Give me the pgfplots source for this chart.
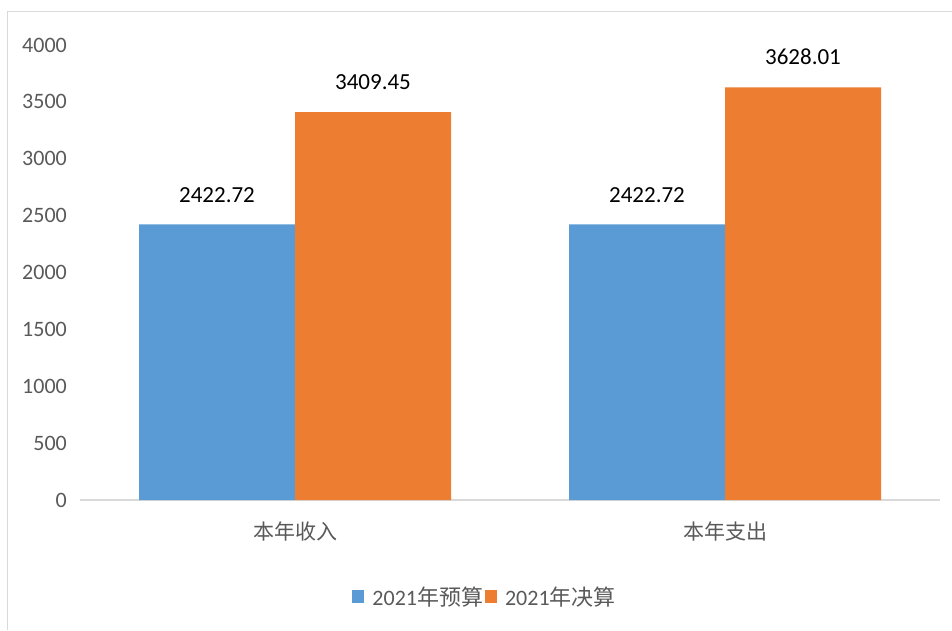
\documentclass[border=0pt]{standalone}
\usepackage{fontspec}
\setmainfont{Carlito}
\newfontfamily\cjk{Noto Sans CJK SC}
\usepackage{pgfplots}
\pgfplotsset{compat=1.18}
\definecolor{cblue}{HTML}{5B9BD5}
\definecolor{corange}{HTML}{ED7D31}
\definecolor{tgray}{HTML}{595959}
\definecolor{lgray}{HTML}{D9D9D9}
\begin{document}
\begin{tikzpicture}[x=1pt,y=1pt]
\path[use as bounding box] (0,0) rectangle (952,630);
\draw[lgray, line width=1pt] (7,0) -- (7,618) -- (952,618);
\begin{axis}[
  at={(80pt,130pt)}, anchor=south west,
  scale only axis, width=860pt, height=455pt,
  xmin=-0.5, xmax=1.5, ymin=0, ymax=4000,
  ybar=0pt, bar width=156pt,
  xtick={0,1}, xticklabels={{\cjk 本年收入},{\cjk 本年支出}},
  ytick={0,500,...,4000},
  major tick length=0pt,
  axis x line*=bottom, axis y line*=left,
  x axis line style={lgray, line width=1.2pt, -},
  y axis line style={draw=none},
  /pgf/number format/assume math mode=true,
  /pgf/number format/1000 sep={},
  yticklabel style={font=\fontsize{22}{22}\selectfont, text=tgray, inner sep=0pt, xshift=-13pt},
  xticklabel style={font=\fontsize{21}{21}\selectfont, text=tgray, inner sep=0pt, yshift=-22pt},
  nodes near coords, point meta=explicit symbolic,
  every node near coord/.append style={font=\fontsize{23}{23}\selectfont, text=black, anchor=south, inner sep=0pt, yshift=22pt},
  legend style={at={(0.471,-0.213)}, anchor=center, draw=none, fill=none,
    legend columns=2, font=\fontsize{22}{22}\selectfont, text=tgray,
    /tikz/every even column/.append style={column sep=0pt},
    /tikz/every odd column/.append style={column sep=6pt}},
  legend image code/.code={\fill[#1] (0pt,-6pt) rectangle (12pt,7pt);},
]
\addplot[fill=cblue, draw=none] coordinates {(0,2422.72) [2422.72] (1,2422.72) [2422.72]};
\addlegendentry{2021{\cjk 年预算}}
\addplot[fill=corange, draw=none] coordinates {(0,3409.45) [3409.45] (1,3628.01) [3628.01]};
\addlegendentry{2021{\cjk 年决算}}
\end{axis}
\end{tikzpicture}
\end{document}
